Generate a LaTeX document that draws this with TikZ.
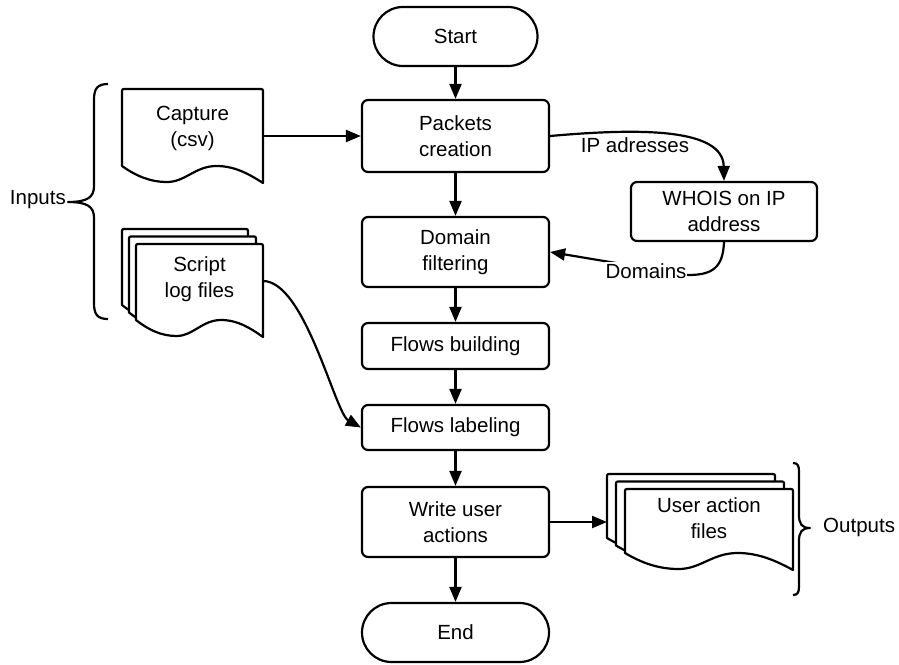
\documentclass[tikz,border=0pt]{standalone}
\usepackage{fontspec}
\setmainfont{Liberation Sans}
\usetikzlibrary{arrows.meta}
\newcommand{\docsheet}[4]{%
  \draw[sheet] (#1,{#2+#4}) -- (#1,{#2+4}) .. controls (#1,#2) .. ({#1+4},#2)
    -- ({#1+#3-4},#2) .. controls ({#1+#3},#2) .. ({#1+#3},{#2+4})
    -- ({#1+#3},{#2+#4+17})
    .. controls ({#1+0.9*#3},{#2+#4+8}) and ({#1+0.8*#3},{#2+#4}) .. ({#1+0.67*#3},{#2+#4})
    .. controls ({#1+0.52*#3},{#2+#4}) and ({#1+0.45*#3},{#2+#4+16}) .. ({#1+0.32*#3},{#2+#4+16})
    .. controls ({#1+0.2*#3},{#2+#4+16}) and ({#1+0.1*#3},{#2+#4+10}) .. (#1,{#2+#4}) -- cycle;}
\tikzset{
  box/.style={draw, line width=2.2pt, rounded corners=6pt, minimum width=187pt, inner sep=0pt, align=center, fill=white},
  term/.style={draw, line width=2.2pt, rounded corners=29.5pt, minimum height=59pt, inner sep=0pt, fill=white},
  arr/.style={line width=2.2pt, -{Triangle[length=15pt,width=12pt]}},
  ghost/.style={inner sep=0pt, outer sep=0pt},
  lbl/.style={inner sep=1pt, align=center},
  sheet/.style={draw, fill=white, line width=2.2pt, line join=round},
  brace/.style={draw, line width=2.2pt, line join=round}
}
\begin{document}
\begin{tikzpicture}[x=1pt, y=-1pt, font=\fontsize{20.5}{26}\selectfont]
\useasboundingbox (0,0) rectangle (899,664);

% document shapes
\docsheet{122}{89}{141}{77}
\node[ghost, minimum width=141pt, minimum height=94pt] (cap) at (192.5,136) {};
\node[lbl] (captxt) at (192.5,128.5) {Capture\\(csv)};

\docsheet{122}{229}{126}{76}
\docsheet{129}{236.5}{127}{76}
\docsheet{136}{244}{127}{76}
\node[ghost, minimum width=127pt, minimum height=74pt] (slf) at (199.5,281) {};
\node[lbl] (slftxt) at (199.5,279.5) {Script\\log files};

\docsheet{607}{474}{168}{64}
\docsheet{616}{481.5}{168}{64}
\docsheet{625}{489}{168}{64}
\node[ghost, minimum width=168pt, minimum height=96pt] (uaf) at (691,522) {};
\node[lbl] (uaftxt) at (709,518.5) {User action\\files};

% process nodes
\node[term, minimum width=164pt] (st) at (455.5,36.5) {Start};
\node[box, minimum height=72pt] (pk) at (455.5,136) {Packets\\creation};
\node[box, minimum height=70pt] (df) at (455.5,252) {Domain\\filtering};
\node[box, minimum height=46pt] (fb) at (455.5,346) {Flows building};
\node[box, minimum height=45pt] (fl) at (455.5,427.5) {Flows labeling};
\node[box, minimum height=70pt] (wu) at (455.5,522) {Write user\\actions};
\node[term, minimum width=187pt] (en) at (455.5,632.5) {End};
\node[box, minimum width=186pt, minimum height=59pt] (wh) at (724,211.5) {WHOIS on IP\\address};

% braces
\draw[brace] (108,84) .. controls (97,84) and (94,89) .. (94,100) -- (94,186)
  .. controls (94,197) and (88,202) .. (68,202)
  .. controls (88,202) and (94,207) .. (94,218) -- (94,303)
  .. controls (94,314) and (97,319) .. (108,319);
\node[lbl, anchor=east] (inp) at (67,200) {Inputs};

\draw[brace] (793,463) .. controls (798,463) and (799,466) .. (799,472) -- (799,515)
  .. controls (799,524) and (802,528) .. (810,528)
  .. controls (802,528) and (799,532) .. (799,541) -- (799,586)
  .. controls (799,592) and (798,595) .. (793,595);
\node[lbl, anchor=west] (outp) at (822,527) {Outputs};

% connectors
\draw[arr] (st) -- (pk);
\draw[arr] (pk) -- (df);
\draw[arr] (df) -- (fb);
\draw[arr] (fb) -- (fl);
\draw[arr] (fl) -- (wu);
\draw[arr] (wu) -- (en);
\draw[arr] (cap.east) -- (pk.west);
\draw[arr] (wu.east) -- (uaf.west);
\draw[arr] (slf.east) .. controls (305,281) and (335,413) .. (fl.west);
\draw[arr] (pk.east) .. controls (640,128) and (723,128) .. (wh.north);
\draw[arr] (wh.south) .. controls (723,268) and (712,275) .. (688,275) -- (df.east);
\node[lbl, fill=white] (ldom) at (646,271) {Domains};
\node[lbl] (lip) at (635,145) {IP adresses};
\end{tikzpicture}
\end{document}
